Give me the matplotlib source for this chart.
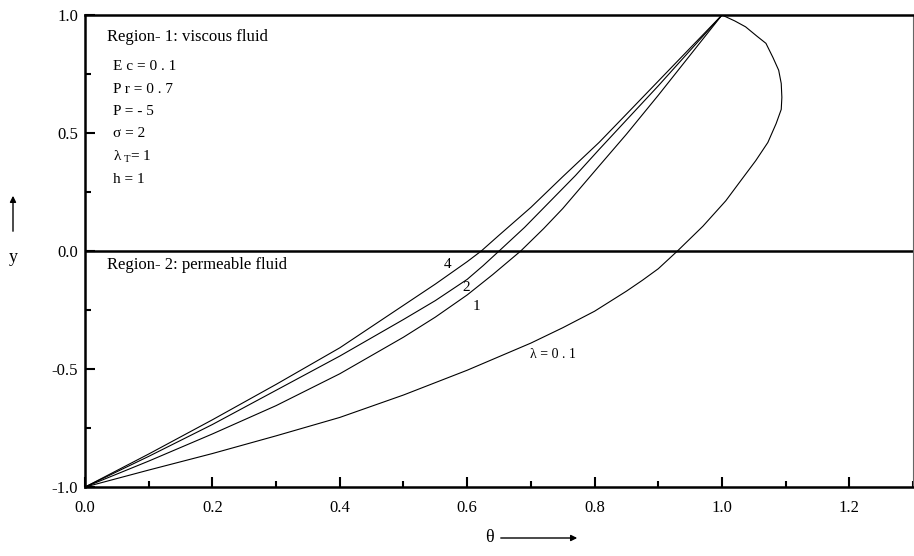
import numpy as np
import matplotlib
matplotlib.use("Agg")
import matplotlib.pyplot as plt
from matplotlib.ticker import MultipleLocator

plt.rcParams["font.family"] = ["Liberation Serif", "DejaVu Serif"]
plt.rcParams["mathtext.fontset"] = "custom"
plt.rcParams["mathtext.rm"] = "Liberation Serif"
plt.rcParams["mathtext.it"] = "Liberation Serif"

# temperature profiles theta(y) for several lambda values
x_l01 = [0.0, 0.1, 0.2, 0.3, 0.4, 0.5, 0.6, 0.7, 0.75, 0.8, 0.85, 0.875,
         0.9, 0.93, 0.97, 1.006, 1.03, 1.053, 1.072, 1.085, 1.093, 1.094,
         1.093, 1.089, 1.08, 1.069, 1.055, 1.037, 1.02, 1.0]
y_l01 = [-1.0, -0.928, -0.858, -0.783, -0.705, -0.61, -0.505, -0.39, -0.325,
         -0.255, -0.17, -0.124, -0.075, 0.0, 0.105, 0.213, 0.30, 0.383, 0.46,
         0.54, 0.60, 0.651, 0.71, 0.766, 0.82, 0.88, 0.91, 0.95, 0.975, 1.0]

x_l1 = [0.0, 0.1, 0.2, 0.3, 0.4, 0.5, 0.55, 0.6, 0.64, 0.684, 0.72, 0.75,
        0.807, 0.85, 0.9, 0.95, 1.0]
y_l1 = [-1.0, -0.89, -0.775, -0.655, -0.52, -0.365, -0.28, -0.186, -0.10,
        0.0, 0.095, 0.18, 0.36, 0.495, 0.66, 0.83, 1.0]

x_l2 = [0.0, 0.1, 0.2, 0.3, 0.4, 0.5, 0.55, 0.6, 0.625, 0.65, 0.69, 0.73,
        0.77, 0.807, 0.85, 0.9, 0.95, 1.0]
y_l2 = [-1.0, -0.87, -0.735, -0.59, -0.445, -0.29, -0.21, -0.12, -0.062,
        0.0, 0.10, 0.21, 0.32, 0.43, 0.555, 0.70, 0.85, 1.0]

x_l4 = [0.0, 0.1, 0.2, 0.3, 0.4, 0.5, 0.55, 0.6, 0.622, 0.65, 0.7, 0.75,
        0.807, 0.85, 0.9, 0.95, 1.0]
y_l4 = [-1.0, -0.86, -0.715, -0.565, -0.41, -0.23, -0.14, -0.045, 0.0,
        0.067, 0.185, 0.315, 0.46, 0.58, 0.72, 0.86, 1.0]

params = ["E c = 0 . 1", "P r = 0 . 7", "P = - 5", "σ = 2",
          r"λ$_{\rm\ T}$= 1", "h = 1"]
param_y = [0.781, 0.685, 0.593, 0.50, 0.40, 0.305]

fig = plt.figure(figsize=(9.14, 5.56), dpi=100)
ax = fig.add_axes([0.093, 0.124, 0.906, 0.849])

for xs, ys in [(x_l01, y_l01), (x_l1, y_l1), (x_l2, y_l2), (x_l4, y_l4)]:
    ax.plot(xs, ys, color="black", lw=0.8)

ax.axhline(0.0, color="black", lw=1.8)

ax.set_xlim(0, 1.3)
ax.set_ylim(-1, 1)
ax.xaxis.set_major_locator(MultipleLocator(0.2))
ax.xaxis.set_minor_locator(MultipleLocator(0.1))
ax.yaxis.set_major_locator(MultipleLocator(0.5))
ax.yaxis.set_minor_locator(MultipleLocator(0.25))
ax.xaxis.set_major_formatter(plt.FormatStrFormatter("%.1f"))
ax.yaxis.set_major_formatter(plt.FormatStrFormatter("%.1f"))
ax.tick_params(which="both", direction="in", top=False, right=False,
               labelsize=12, width=1.5)
ax.tick_params(which="major", length=7)
ax.tick_params(which="minor", length=4)
ax.tick_params(axis="x", pad=9)
ax.tick_params(axis="y", pad=5)
for side in ["left", "bottom", "top"]:
    ax.spines[side].set_linewidth(1.8)
ax.spines["right"].set_linewidth(0.8)
ax.spines["right"].set_color("#666666")

ax.text(0.0345, 0.907, "Region- 1: viscous fluid", fontsize=12, va="center")
ax.text(0.0345, -0.059, "Region- 2: permeable fluid", fontsize=12, va="center")
for s, yy in zip(params, param_y):
    ax.text(0.044, yy, s, fontsize=11, va="center")

ax.text(0.569, -0.059, "4", fontsize=11, ha="center", va="center")
ax.text(0.598, -0.153, "2", fontsize=11, ha="center", va="center")
ax.text(0.614, -0.237, "1", fontsize=11, ha="center", va="center")
ax.text(0.734, -0.44, "λ = 0 . 1", fontsize=10, ha="center", va="center")

# axis names with arrows
fig.text(13, 556 - 257, "y", fontsize=13, ha="center", va="center",
         transform=None)
ax.annotate("", xy=(13, 556 - 193), xytext=(13, 556 - 234),
            xycoords="figure pixels", textcoords="figure pixels",
            arrowprops=dict(arrowstyle="-|>", lw=1, color="black",
                            mutation_scale=9))
fig.text(489, 556 - 538, "θ", fontsize=13, ha="center", va="center",
         transform=None)
ax.annotate("", xy=(580, 556 - 538), xytext=(498, 556 - 538),
            xycoords="figure pixels", textcoords="figure pixels",
            arrowprops=dict(arrowstyle="-|>", lw=1, color="black",
                            mutation_scale=9))

fig.savefig("out.png", dpi=100)
